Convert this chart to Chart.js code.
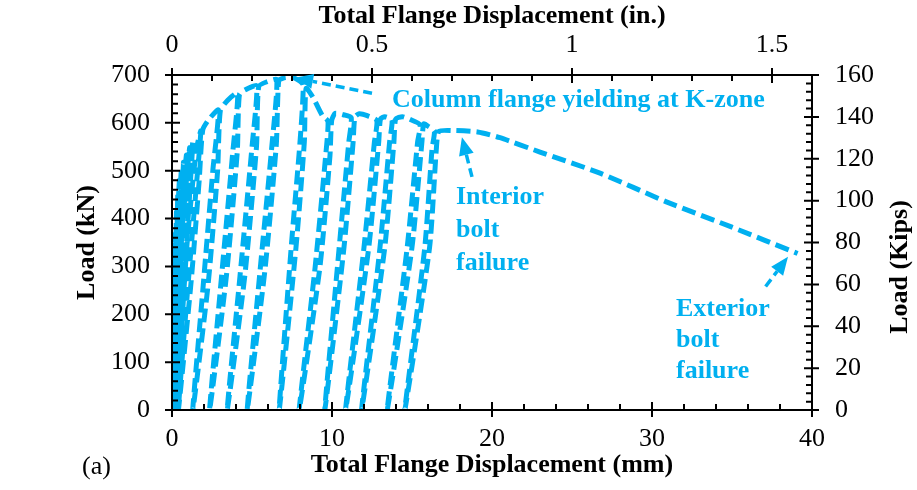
<!DOCTYPE html>
<html>
<head>
<meta charset="utf-8">
<script src="https://cdn.jsdelivr.net/npm/chart.js@4"></script>
<style>
  html, body { margin: 0; padding: 0; background: #fff; }
  canvas { display: block; }
</style>
</head>
<body>
<canvas id="chart" width="917" height="490"></canvas>
<script>
// Cyclic load trace: total flange displacement (mm) and load (kN), in test order
const dispMm = [
  0, 0.05, 0, 0.09, 0.01, 0.13, 0.02, 0.17, 0.03, 0.22, 0.04, 0.28, 0.05, 0.36, 0.07,
  0.20, 0.46, 0.24, 0.09, 0.25, 0.58, 0.33, 0.12, 0.30, 0.72, 0.45, 0.16,
  0.40, 0.90, 0.60, 0.20, 0.55, 1.10, 0.75, 0.25, 0.70, 1.30, 0.95, 0.32,
  0.90, 1.50, 1.80, 1.55, 0.95, 0.40,
  1.20, 1.70, 1.92, 2.30, 2.90, 2.55, 1.95, 1.30,
  2.25, 2.85, 3.02, 3.50, 4.10, 3.80, 3.10, 2.35,
  3.40, 4.08, 4.22, 4.70, 5.30, 5.00, 4.25, 3.45,
  4.55, 5.28, 5.42, 5.95, 6.55, 6.25, 5.50, 4.70,
  5.80, 6.52, 6.67, 7.00, 7.50, 7.90, 8.20, 8.00, 7.45, 6.70,
  7.75, 8.27, 8.38, 8.80, 9.40, 9.75, 9.60, 8.95, 7.95,
  9.25, 9.87, 9.98, 10.2, 10.7, 11.2, 11.05, 10.45, 9.55,
  10.75, 11.32, 11.43, 11.7, 12.2, 12.8, 12.65, 12.0, 10.85,
  12.3, 12.92, 13.03, 13.3, 13.75, 13.6, 13.0, 11.85,
  13.3, 13.87, 13.98, 14.4, 14.9, 15.5, 15.35, 14.7, 13.45,
  15.0, 15.62, 15.73, 16.0, 16.4, 16.25, 15.8, 14.55,
  16.1, 16.52, 16.68, 17.5, 19.1, 20.5, 23.0, 26.75, 30.9, 35.0, 39.1
];
const loadKN = [
  0, 100, 0, 190, 0, 260, 0, 320, 0, 370, 0, 415, 0, 450, 0,
  300, 480, 330, 0, 320, 500, 340, 0, 330, 518, 350, 0,
  340, 533, 360, 0, 340, 548, 360, 0, 350, 560, 370, 0,
  330, 540, 583, 480, 240, 0,
  270, 480, 585, 607, 627, 500, 260, 0,
  260, 500, 625, 648, 662, 540, 280, 0,
  280, 540, 660, 671, 677, 550, 280, 0,
  280, 550, 676, 686, 690, 555, 290, 0,
  290, 555, 688, 694, 695, 689, 679, 560, 340, 0,
  340, 560, 672, 654, 615, 603, 530, 300, 0,
  300, 530, 605, 620, 617, 611, 560, 340, 0,
  340, 560, 612, 619, 615, 605, 560, 340, 0,
  340, 560, 608, 613, 606, 560, 340, 0,
  340, 560, 608, 613, 607, 596, 560, 340, 0,
  340, 560, 598, 593, 583, 545, 340, 0,
  340, 545, 582, 584, 581, 569, 539, 495, 435, 382, 327
];

// Axis tick labels
const mmTicks = [0, 10, 20, 30, 40];
const inchTicks = [0, 0.5, 1, 1.5];
const kNTicks = [0, 100, 200, 300, 400, 500, 600, 700];
const kipTicks = [0, 20, 40, 60, 80, 100, 120, 140, 160];

// Callout texts: [x (mm), y (kN)] anchor of the first line, then lines
const yieldNote = { at: [13.75, 648], lines: ['Column flange yielding at K-zone'] };
const interiorNote = { at: [17.75, 445], lines: ['Interior', 'bolt', 'failure'] };
const exteriorNote = { at: [31.5, 211], lines: ['Exterior', 'bolt', 'failure'] };
// Callout arrows: [tailX, tailY, tipX, tipY] in mm / kN
const yieldArrow = [12.5, 662, 7.69, 694];
const interiorArrow = [18.75, 487, 18.12, 570];
const exteriorArrow = [37.1, 258, 38.5, 320];

const CYAN = '#00B0F0';
const SERIF = "'Liberation Serif', 'Times New Roman', serif";
const FS = 26;

Chart.defaults.font.family = SERIF;
Chart.defaults.font.size = FS;
Chart.defaults.color = '#000';

const points = dispMm.map((x, i) => ({ x, y: loadKN[i] }));

function minorValues(max, step) {
  const out = [];
  for (let i = 0; i * step <= max + 1e-9; i++) out.push(+(i * step).toFixed(4));
  return out;
}

const decor = {
  id: 'decor',
  afterDatasetsDraw(chart) {
    const { ctx, chartArea: a, scales } = chart;
    const { x, x2, y, y2 } = scales;
    ctx.save();
    ctx.strokeStyle = '#000';
    ctx.lineWidth = 2;
    ctx.beginPath();
    ctx.rect(a.left, a.top, a.right - a.left, a.bottom - a.top);
    ctx.stroke();

    const MAJ_OUT = 7, MAJ_IN = 8, MIN_IN = 6;
    ctx.beginPath();
    // bottom axis (mm)
    minorValues(40, 2).forEach(v => {
      const p = x.getPixelForValue(v);
      const major = mmTicks.includes(v);
      ctx.moveTo(p, a.bottom + (major ? MAJ_OUT : 0));
      ctx.lineTo(p, a.bottom - (major ? MAJ_IN : MIN_IN));
    });
    // top axis (in.)
    minorValues(1.6, 0.1).forEach(v => {
      const p = x2.getPixelForValue(v);
      const major = inchTicks.includes(v);
      ctx.moveTo(p, a.top - (major ? MAJ_OUT : 0));
      ctx.lineTo(p, a.top + (major ? MAJ_IN : MIN_IN));
    });
    // left axis (kN)
    minorValues(700, 20).forEach(v => {
      const p = y.getPixelForValue(v);
      const major = kNTicks.includes(v);
      ctx.moveTo(a.left - (major ? MAJ_OUT : 0), p);
      ctx.lineTo(a.left + (major ? MAJ_IN : MIN_IN), p);
    });
    // right axis (kips)
    minorValues(160, 4).forEach(v => {
      const p = y2.getPixelForValue(v);
      const major = kipTicks.includes(v);
      ctx.moveTo(a.right + (major ? MAJ_OUT : 0), p);
      ctx.lineTo(a.right - (major ? MAJ_IN : MIN_IN), p);
    });
    ctx.stroke();

    // callouts
    ctx.fillStyle = CYAN;
    ctx.strokeStyle = CYAN;
    ctx.font = `bold ${FS}px ${SERIF}`;
    ctx.textBaseline = 'middle';
    ctx.textAlign = 'left';
    [[yieldNote, 0], [interiorNote, 33], [exteriorNote, 31]].forEach(([n, gap]) => {
      const px = x.getPixelForValue(n.at[0]);
      const py = y.getPixelForValue(n.at[1]);
      n.lines.forEach((t, i) => ctx.fillText(t, px, py + i * gap));
    });
    ctx.lineWidth = 3.5;
    [yieldArrow, interiorArrow, exteriorArrow].forEach(ar => {
      const x1 = x.getPixelForValue(ar[0]), y1 = y.getPixelForValue(ar[1]);
      const xt = x.getPixelForValue(ar[2]), yt = y.getPixelForValue(ar[3]);
      const ang = Math.atan2(yt - y1, xt - x1);
      const hl = 18, hw = 7.5;
      const bx = xt - hl * Math.cos(ang), by = yt - hl * Math.sin(ang);
      ctx.setLineDash([9, 5]);
      ctx.beginPath();
      ctx.moveTo(x1, y1);
      ctx.lineTo(bx, by);
      ctx.stroke();
      ctx.setLineDash([]);
      ctx.beginPath();
      ctx.moveTo(xt, yt);
      ctx.lineTo(bx - hw * Math.sin(ang), by + hw * Math.cos(ang));
      ctx.lineTo(bx + hw * Math.sin(ang), by - hw * Math.cos(ang));
      ctx.closePath();
      ctx.fill();
    });

    // right axis title, read bottom to top
    ctx.fillStyle = '#000';
    ctx.font = `bold ${FS}px ${SERIF}`;
    ctx.textAlign = 'center';
    ctx.translate(900, 267);
    ctx.rotate(-Math.PI / 2);
    ctx.fillText('Load (Kips)', 0, 0);
    ctx.restore();

    // panel tag
    ctx.save();
    ctx.fillStyle = '#000';
    ctx.font = `${FS}px ${SERIF}`;
    ctx.textBaseline = 'middle';
    ctx.fillText('(a)', 82, 467);
    ctx.restore();
  }
};

const tickFromList = list => scale => { scale.ticks = list.map(v => ({ value: v })); };
const noGrid = { display: false, drawTicks: false };

new Chart(document.getElementById('chart'), {
  type: 'scatter',
  data: {
    datasets: [{
      data: points,
      showLine: true,
      borderColor: CYAN,
      borderWidth: 5,
      borderDash: [14, 6],
      pointRadius: 0,
      tension: 0.2,
      fill: false,
      xAxisID: 'x',
      yAxisID: 'y'
    }]
  },
  options: {
    responsive: false,
    animation: false,
    devicePixelRatio: 1,
    layout: { padding: 0 },
    plugins: { legend: { display: false }, tooltip: { enabled: false } },
    scales: {
      x: {
        type: 'linear', position: 'bottom', min: 0, max: 40,
        afterBuildTicks: tickFromList(mmTicks),
        afterFit: s => { s.height = 80; },
        grid: noGrid, border: { display: false },
        ticks: { padding: 14, maxRotation: 0, autoSkip: false, callback: v => String(v) },
        title: { display: true, text: 'Total Flange Displacement (mm)', font: { weight: 'bold', size: FS, lineHeight: 1.2 }, padding: { top: 0, bottom: 9 } }
      },
      x2: {
        type: 'linear', position: 'top', min: 0, max: 1.6,
        afterBuildTicks: tickFromList(inchTicks),
        afterFit: s => { s.height = 75; },
        grid: noGrid, border: { display: false },
        ticks: { padding: 14, maxRotation: 0, autoSkip: false, callback: v => String(v) },
        title: { display: true, text: 'Total Flange Displacement (in.)', font: { weight: 'bold', size: FS, lineHeight: 1.2 }, padding: { top: 1, bottom: 0 } }
      },
      y: {
        type: 'linear', position: 'left', min: 0, max: 700,
        afterBuildTicks: tickFromList(kNTicks),
        afterFit: s => { s.width = 172; },
        grid: noGrid, border: { display: false },
        ticks: { padding: 22, autoSkip: false, callback: v => String(v) },
        title: { display: true, text: 'Load (kN)', font: { weight: 'bold', size: FS, lineHeight: 1.2 }, padding: { top: 72, bottom: 0 } }
      },
      y2: {
        type: 'linear', position: 'right', min: 0, max: 160,
        afterBuildTicks: tickFromList(kipTicks),
        afterFit: s => { s.width = 105; },
        grid: noGrid, border: { display: false },
        ticks: { padding: 23, autoSkip: false, callback: v => String(v) }
      }
    }
  },
  plugins: [decor]
});
</script>
</body>
</html>
